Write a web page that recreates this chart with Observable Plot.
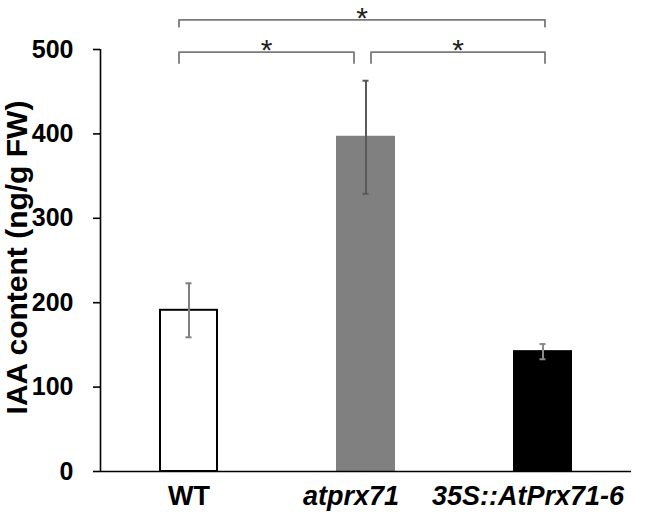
<!DOCTYPE html>
<html>
<head>
<meta charset="utf-8">
<script src="https://cdn.jsdelivr.net/npm/d3@7"></script>
<script src="https://cdn.jsdelivr.net/npm/@observablehq/plot@0.6"></script>
<style>
  html, body { margin: 0; padding: 0; background: #fff; }
  #chart svg { display: block; }
</style>
</head>
<body>
<div id="chart"></div>
<script>
// ---- data ----
const categories = ["WT", "atprx71", "35S::AtPrx71-6"];
const means = [191, 396, 142];
const errors = [32, 67, 9];
const yTicks = [0, 100, 200, 300, 400, 500];
const yLabel = "IAA content (ng/g FW)";
// significance brackets
const bracketFrom = ["WT", "WT", "atprx71"];
const bracketTo = ["35S::AtPrx71-6", "atprx71", "35S::AtPrx71-6"];
const bracketLevel = [535, 497, 497];
const bracketMark = ["*", "*", "*"];

// ---- styles / layout ----
const barFill = ["#ffffff", "#808080", "#000000"];
const errColor = ["#7f7f7f", "#5a5a5a", "#8a8a8a"];
const italicLabels = new Set(["atprx71", "35S::AtPrx71-6"]);
const W = 646, H = 512;
const mL = 100, mR = 15, mT = 49, mB = 41;
const pxPerUnit = (W - mL - mR) / 3;
const barHalf = 28.5 / pxPerUnit;
const capHalf = 3 / pxPerUnit;
const bracketStartNudge = [-10, -10, 5];   // px
const bracketEndNudge = [2, -12, 2];       // px
const bracketDrop = [8, 13, 13];           // data units
const font = "Liberation Sans, Arial, sans-serif";

const idx = c => categories.indexOf(c);
const bars = categories.map((c, i) => ({c, i, mean: means[i], err: errors[i], fill: barFill[i], ec: errColor[i]}));

const brackets = bracketFrom.map((f, k) => {
  const x1 = idx(f) + bracketStartNudge[k] / pxPerUnit;
  const x2 = idx(bracketTo[k]) + bracketEndNudge[k] / pxPerUnit;
  const y = bracketLevel[k], y0 = y - bracketDrop[k];
  return {k, x1, x2, y, y0, mid: (x1 + x2) / 2, label: bracketMark[k],
    path: [[x1, y0], [x1, y], [x2, y], [x2, y0]]};
});
const bracketPts = brackets.flatMap(b => b.path.map(([x, y]) => ({k: b.k, x, y})));

const plot = Plot.plot({
  width: W, height: H,
  marginLeft: mL, marginRight: mR, marginTop: mT, marginBottom: mB,
  style: {fontFamily: font, background: "#fff"},
  x: {type: "linear", domain: [-0.5, 2.5], axis: null},
  y: {type: "linear", domain: [0, 500], axis: null},
  marks: [
    Plot.rectY(bars, {x1: d => d.i - barHalf, x2: d => d.i + barHalf, y1: 0, y2: "mean",
      fill: d => d.fill, stroke: d => d.i === 0 ? "#000" : d.fill, strokeWidth: 2}),
    Plot.ruleX(bars, {x: "i", y1: d => d.mean - d.err, y2: d => d.mean + d.err, stroke: d => d.ec, strokeWidth: 2}),
    Plot.ruleY(bars, {y: d => d.mean + d.err, x1: d => d.i - capHalf, x2: d => d.i + capHalf, stroke: d => d.ec, strokeWidth: 2}),
    Plot.ruleY(bars, {y: d => d.mean - d.err, x1: d => d.i - capHalf, x2: d => d.i + capHalf, stroke: d => d.ec, strokeWidth: 2}),
    // axes
    Plot.ruleY([0], {stroke: "#000", strokeWidth: 1.6}),
    Plot.ruleX([-0.5], {y1: 0, y2: 500, stroke: "#000", strokeWidth: 1.6}),
    Plot.axisY({ticks: yTicks, tickSize: 7, tickPadding: 20, fontSize: 25, fontWeight: "bold",
      fill: "#000", stroke: "#000", strokeWidth: 1.6, label: null}),
    Plot.text([yLabel], {frameAnchor: "left", textAnchor: "middle", rotate: -90, dx: -83, dy: -3,
      fontSize: 30, fontWeight: "bold", fill: "#000"}),
    // x labels
    Plot.text(categories.filter(c => !italicLabels.has(c)), {x: idx, frameAnchor: "bottom", dy: 25,
      lineAnchor: "middle", fontSize: 27, fontWeight: "bold", fill: "#000"}),
    Plot.text(categories.filter(c => italicLabels.has(c)), {x: idx, frameAnchor: "bottom", dy: 25, dx: -15,
      lineAnchor: "middle", fontSize: 27, fontWeight: "bold", fontStyle: "italic", fill: "#000"}),
    // brackets
    Plot.line(bracketPts, {x: "x", y: "y", z: "k", stroke: "#7a7a7a", strokeWidth: 1.8}),
    Plot.text(brackets, {x: "mid", y: d => d.y + 16, text: "label", lineAnchor: "top",
      fontSize: 30, fill: "#222"})
  ]
});
document.getElementById("chart").append(plot);
</script>
</body>
</html>
